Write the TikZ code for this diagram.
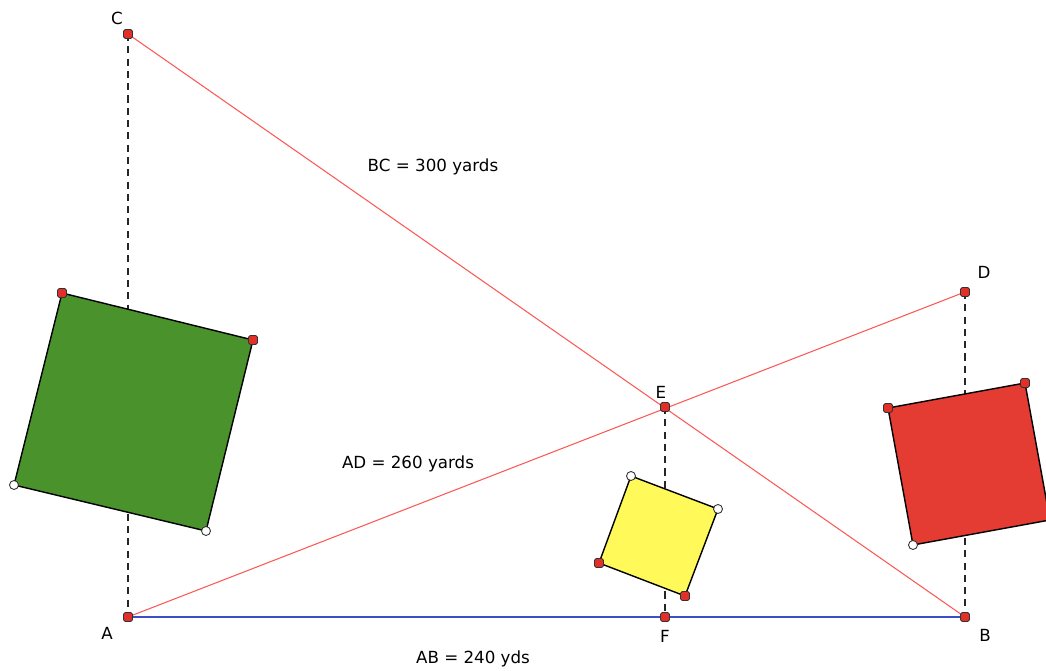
\documentclass[tikz,border=0pt]{standalone}
\usepackage{fontspec}
\setmainfont{DejaVu Sans}
\usetikzlibrary{positioning}
\definecolor{segred}{RGB}{252,88,84}
\definecolor{baseblue}{RGB}{62,78,196}
\definecolor{dotred}{RGB}{226,48,40}
\definecolor{sqgreen}{RGB}{74,146,44}
\definecolor{sqyellow}{RGB}{255,250,90}
\definecolor{sqred}{RGB}{228,60,50}
\tikzset{
  segline/.style={segred, line width=0.6pt},
  baseline/.style={baseblue, line width=1.1pt},
  dropline/.style={black!85, line width=0.6pt, dash pattern=on 4pt off 3pt},
  sqface/.style={draw=black, line width=0.8pt, line join=round},
  reddot/.style={
    rectangle, rounded corners=1pt, minimum size=0.18cm, inner sep=0pt,
    fill=dotred, draw=black!80, line width=0.5pt
  },
  whitedot/.style={
    circle, minimum size=0.18cm, inner sep=0pt,
    fill=white, draw=black!80, line width=0.5pt
  },
  ptlabel/.style={font=\fontsize{9.5}{11}\selectfont, inner sep=0pt},
  seglabel/.style={font=\fontsize{9.5}{11}\selectfont, inner sep=0pt},
}
\begin{document}
\begin{tikzpicture}[x=0.02cm, y=-0.02cm]

  \useasboundingbox (0,0) rectangle (1046,671);
  \clip (0,0) rectangle (1046,671);

  % ── Triangle points ──
  \coordinate (A) at (128,617);
  \coordinate (B) at (965,617);
  \coordinate (C) at (128,34);
  \coordinate (D) at (965,292);
  \coordinate (E) at (665,407);
  \coordinate (F) at (665,617);

  % ── Square corners ──
  \coordinate (G1) at (62,293);
  \coordinate (G2) at (253,340);
  \coordinate (G3) at (206,531);
  \coordinate (G4) at (14,485);
  \coordinate (Y1) at (631,476);
  \coordinate (Y2) at (718,509);
  \coordinate (Y3) at (685,596);
  \coordinate (Y4) at (599,563);
  \coordinate (R1) at (888,408);
  \coordinate (R2) at (1025,383);
  \coordinate (R3) at (1050,520);
  \coordinate (R4) at (913,545);

  % ── Vertical drops ──
  \draw[dropline] (C) -- (A);
  \draw[dropline] (E) -- (F);
  \draw[dropline] (D) -- (B);

  % ── Sight lines ──
  \draw[segline] (C) -- (B);
  \draw[segline] (A) -- (D);
  \draw[baseline] (A) -- (B);

  % ── Squares ──
  \draw[sqface, fill=sqgreen] (G1) -- (G2) -- (G3) -- (G4) -- cycle;
  \draw[sqface, fill=sqyellow] (Y1) -- (Y2) -- (Y3) -- (Y4) -- cycle;
  \draw[sqface, fill=sqred] (R1) -- (R2) -- (R3) -- (R4) -- cycle;

  % ── Dots ──
  \foreach \p in {A,B,C,D,E,F,G1,G2,Y3,Y4,R1,R2}
    \node[reddot] (dot\p) at (\p) {};
  \foreach \p in {G3,G4,Y1,Y2,R4}
    \node[whitedot] (dot\p) at (\p) {};

  % ── Point labels ──
  \node[ptlabel] (labC) at ([shift={(-11,-16)}]C) {C};
  \node[ptlabel] (labA) at ([shift={(-21,16)}]A) {A};
  \node[ptlabel] (labB) at ([shift={(20,18)}]B) {B};
  \node[ptlabel] (labD) at ([shift={(19,-20)}]D) {D};
  \node[ptlabel] (labE) at ([shift={(-4,-15)}]E) {E};
  \node[ptlabel] (labF) at ([shift={(0,19)}]F) {F};

  % ── Distance labels ──
  \node[seglabel] (lblBC) at (433,167) {BC = 300 yards};
  \node[seglabel] (lblAD) at (408,464) {AD = 260 yards};
  \node[seglabel] (lblAB) at (473,659) {AB = 240 yds};

\end{tikzpicture}
\end{document}
